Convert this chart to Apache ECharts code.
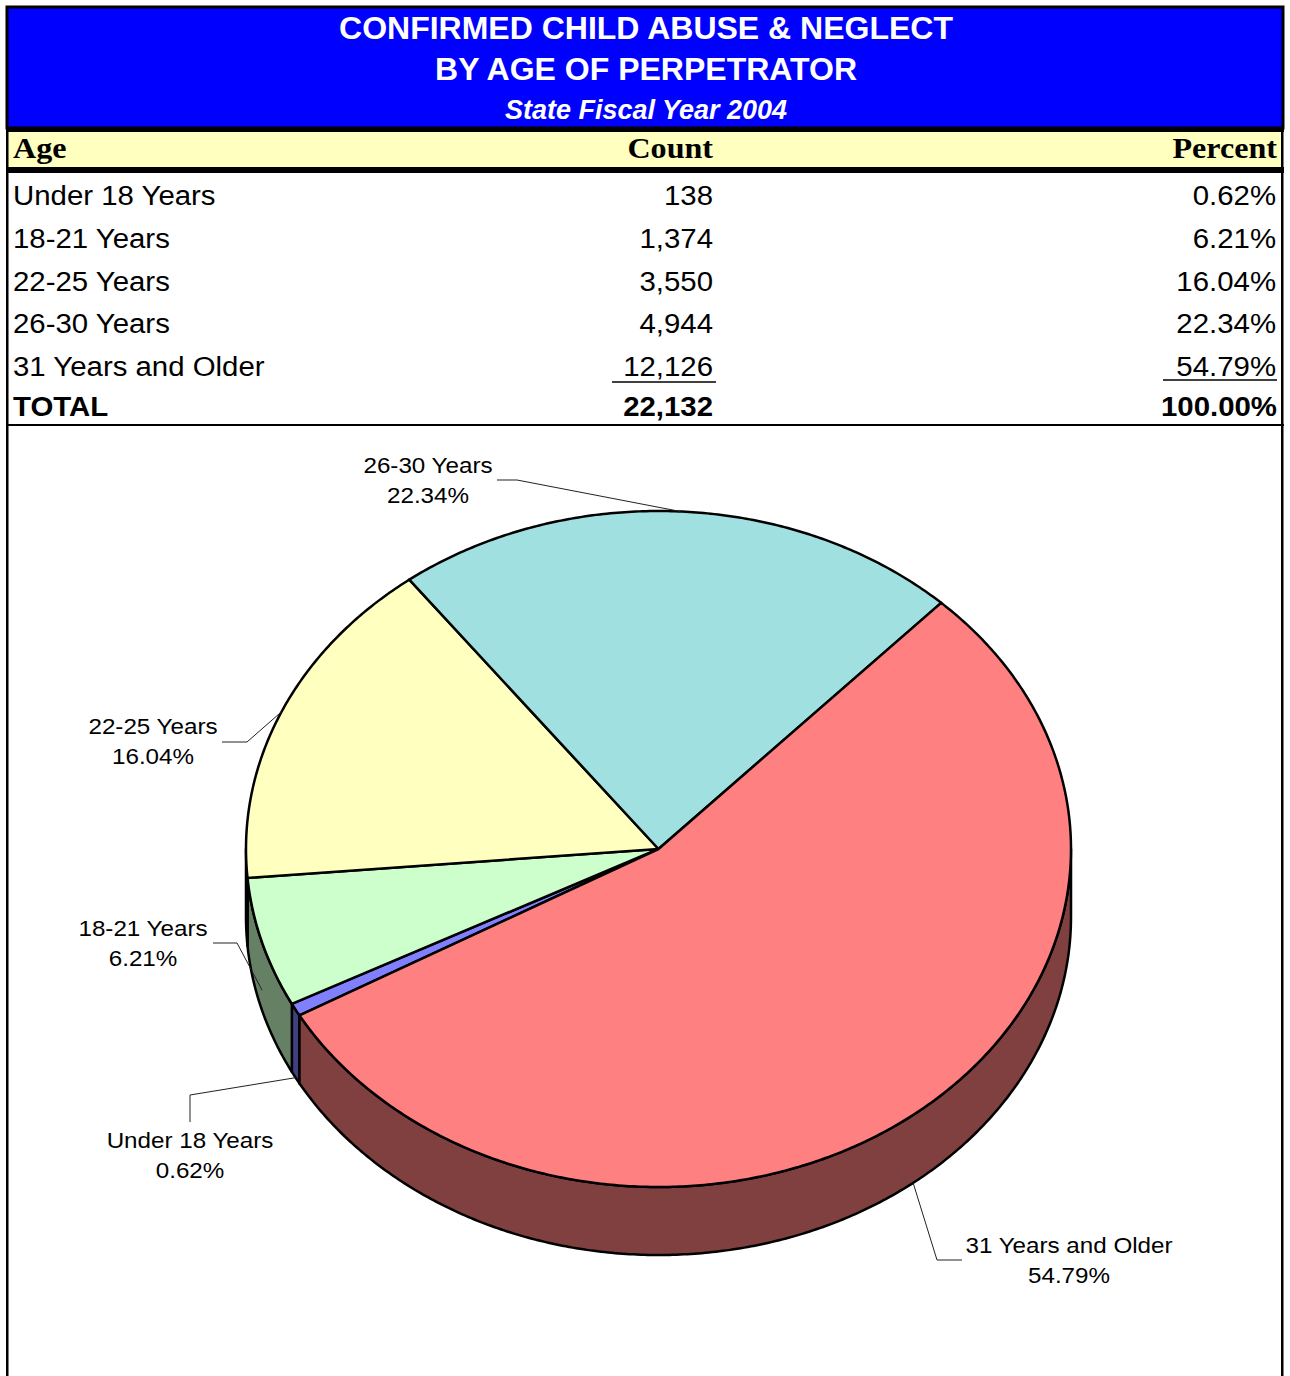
<!DOCTYPE html>
<html>
<head>
<meta charset="utf-8">
<title>Confirmed Child Abuse & Neglect by Age of Perpetrator</title>
<script src="https://cdn.jsdelivr.net/npm/echarts@6/dist/echarts.min.js"></script>
<style>
  html, body { margin: 0; padding: 0; background: #ffffff; }
  #chart { width: 1290px; height: 1376px; }
</style>
</head>
<body>
<div id="chart"></div>
<script>
// ---- Data ----
const titleLines = ['CONFIRMED CHILD ABUSE & NEGLECT', 'BY AGE OF PERPETRATOR'];
const subtitle = 'State Fiscal Year 2004';
const headers = ['Age', 'Count', 'Percent'];
const ageGroups = ['Under 18 Years', '18-21 Years', '22-25 Years', '26-30 Years', '31 Years and Older'];
const counts = [138, 1374, 3550, 4944, 12126];
const percents = [0.62, 6.21, 16.04, 22.34, 54.79];
const totalLabel = 'TOTAL';
const totalCount = 22132;
const totalPercent = 100.00;

// ---- Styles ----
const topColors = ['#8080FF', '#CCFFCC', '#FFFFC0', '#A0E0E0', '#FF8080'];
const sideColors = ['#404080', '#668066', '#808060', '#507070', '#804040'];
const SANS = '"Liberation Sans", Arial, Helvetica, sans-serif';
const SERIF = '"Liberation Serif", "Times New Roman", serif';
const ROW_FONT = '28px ' + SANS;
const ROW_BOLD = 'bold 28px ' + SANS;
const ROW_STRETCH = 1.05;   // table text is set slightly wide
const LABEL_STRETCH = 1.1;  // pie labels likewise

// Pie geometry (tilted disc)
const pie = { cx: 658.5, cy: 849, rx: 412.5, ry: 338, depth: 68, startAngle: -150.5 };

// Label placement: text centre, elbow points of the leader, and how far down the rim the leader ends
const labelLayout = [
  { tx: 190, ty: 1140, path: [[190, 1122], [190, 1095]], rim: 1.0 },
  { tx: 143, ty: 928,  path: [[213, 943], [237, 943]],  rim: 0.7 },
  { tx: 153, ty: 726,  path: [[222, 742], [247, 742]],  rim: 0 },
  { tx: 428, ty: 465,  path: [[497, 480], [517, 480]],  rim: 0 },
  { tx: 1069, ty: 1245, path: [[962, 1260], [937, 1260]], rim: 1.0 }
];

const fmtCount = v => v.toLocaleString('en-US');
const fmtPct = v => v.toFixed(2) + '%';

// Angles of each slice, clockwise from the start angle (degrees, maths convention)
function sliceAngles(i) {
  let acc = 0;
  for (let k = 0; k < i; k++) acc += percents[k];
  const total = percents.reduce((a, b) => a + b, 0);
  const a1 = pie.startAngle - acc / total * 360;
  const a2 = a1 - percents[i] / total * 360;
  return [a1, a2];
}
function pt(deg, dz) {
  const r = deg * Math.PI / 180;
  return [pie.cx + pie.rx * Math.cos(r), pie.cy - pie.ry * Math.sin(r) + (dz || 0)];
}
function arc(from, to, dz) {
  const pts = [];
  const n = Math.max(2, Math.ceil(Math.abs(to - from) / 0.5));
  for (let s = 0; s <= n; s++) pts.push(pt(from + (to - from) * s / n, dz));
  return pts;
}
function cellText(text, x, y, font, align, stretch) {
  return { type: 'text', z: 5, x, y, scaleX: stretch || 1,
    style: { text, font, fill: '#000', textAlign: align, textVerticalAlign: 'middle' } };
}

// ---- Table / banner graphics ----
const graphics = [];
// blue banner
graphics.push({ type: 'rect', shape: { x: 7, y: 7, width: 1276, height: 121 },
  style: { fill: '#0000FF', stroke: '#000', lineWidth: 3 }, z: 1 });
titleLines.forEach((t, i) => graphics.push({ type: 'text', z: 5, x: 646, y: 28 + i * 41,
  style: { text: t, font: 'bold 32px ' + SANS, fill: '#fff', textAlign: 'center', textVerticalAlign: 'middle' } }));
graphics.push({ type: 'text', z: 5, x: 646, y: 110,
  style: { text: subtitle, font: 'italic bold 27px ' + SANS, fill: '#fff', textAlign: 'center', textVerticalAlign: 'middle' } });
// header band
graphics.push({ type: 'rect', shape: { x: 6, y: 127, width: 1278, height: 5 }, style: { fill: '#000' }, z: 2 });
graphics.push({ type: 'rect', shape: { x: 8, y: 132, width: 1273, height: 35 }, style: { fill: '#FFFFC0' }, z: 2 });
graphics.push({ type: 'rect', shape: { x: 6, y: 167, width: 1278, height: 6 }, style: { fill: '#000' }, z: 2 });
graphics.push({ type: 'rect', shape: { x: 6, y: 130, width: 2.5, height: 1246 }, style: { fill: '#000' }, z: 2 });
graphics.push({ type: 'rect', shape: { x: 1281, y: 130, width: 2.5, height: 1246 }, style: { fill: '#000' }, z: 2 });
const headerX = [13, 713, 1277];
const headerAlign = ['left', 'right', 'right'];
headers.forEach((h, i) => graphics.push(cellText(h, headerX[i], 148, 'bold 30px ' + SERIF, headerAlign[i], 1.07)));
// rows
const rowY = [195, 238, 281, 323, 366];
ageGroups.forEach((g, i) => {
  graphics.push(cellText(g, 13, rowY[i], ROW_FONT, 'left', ROW_STRETCH));
  graphics.push(cellText(fmtCount(counts[i]), 713, rowY[i], ROW_FONT, 'right', ROW_STRETCH));
  graphics.push(cellText(fmtPct(percents[i]), 1276, rowY[i], ROW_FONT, 'right', ROW_STRETCH));
});
// subtotal rules
graphics.push({ type: 'line', z: 5, shape: { x1: 612, y1: 382, x2: 716, y2: 382 }, style: { stroke: '#000', lineWidth: 1.5 } });
graphics.push({ type: 'line', z: 5, shape: { x1: 1163, y1: 380, x2: 1277, y2: 380 }, style: { stroke: '#000', lineWidth: 1.5 } });
// total row
graphics.push(cellText(totalLabel, 13, 406, ROW_BOLD, 'left', ROW_STRETCH));
graphics.push(cellText(fmtCount(totalCount), 713, 406, ROW_BOLD, 'right', ROW_STRETCH));
graphics.push(cellText(fmtPct(totalPercent), 1277, 406, ROW_BOLD, 'right', ROW_STRETCH));
graphics.push({ type: 'rect', z: 5, shape: { x: 6, y: 424, width: 1278, height: 2 }, style: { fill: '#000' } });

// ---- Pie: rim (side walls) ----
function renderRim(params, api) {
  const i = params.dataIndex;
  const [a1, a2] = sliceAngles(i);
  const children = [];
  // front half of the disc is where the angle lies in (-180, 0) (mod 360)
  for (let k = -2; k <= 1; k++) {
    const lo = Math.max(a2, -180 + 360 * k);
    const hi = Math.min(a1, 0 + 360 * k);
    if (hi > lo) {
      const top = arc(hi, lo, 0);
      const bottom = arc(lo, hi, pie.depth);
      children.push({ type: 'polygon', shape: { points: top.concat(bottom) },
        style: { fill: sideColors[i], stroke: '#000', lineWidth: 2.5, lineJoin: 'round' } });
    }
  }
  return { type: 'group', children };
}

// ---- Pie: top faces ----
function renderTop(params, api) {
  const i = params.dataIndex;
  const [a1, a2] = sliceAngles(i);
  const pts = [[pie.cx, pie.cy]].concat(arc(a1, a2, 0));
  return { type: 'group', children: [
    { type: 'polygon', shape: { points: pts },
      style: { fill: topColors[i], stroke: '#000', lineWidth: 2.5, lineJoin: 'round' } }
  ] };
}

// ---- Pie: leaders and labels ----
function renderLabel(params, api) {
  const i = params.dataIndex;
  const [a1, a2] = sliceAngles(i);
  const mid = (a1 + a2) / 2;
  const L = labelLayout[i];
  const anchor = pt(mid, pie.depth * L.rim);
  return { type: 'group', children: [
    { type: 'polyline', shape: { points: L.path.concat([anchor]) },
      style: { stroke: '#222', lineWidth: 1, fill: null } },
    { type: 'text', x: L.tx, y: L.ty, scaleX: LABEL_STRETCH,
      style: { text: ageGroups[i], font: '22px ' + SANS, fill: '#000', textAlign: 'center', textVerticalAlign: 'middle' } },
    { type: 'text', x: L.tx, y: L.ty + 30, scaleX: LABEL_STRETCH,
      style: { text: fmtPct(api.value(0)), font: '22px ' + SANS, fill: '#000', textAlign: 'center', textVerticalAlign: 'middle' } }
  ] };
}

const chart = echarts.init(document.getElementById('chart'), null, { renderer: 'svg' });
chart.setOption({
  backgroundColor: '#ffffff',
  animation: false,
  graphic: graphics,
  series: [
    { type: 'custom', name: 'rim', coordinateSystem: 'none', z: 1, silent: true,
      renderItem: renderRim, data: percents },
    { type: 'custom', name: 'top', coordinateSystem: 'none', z: 2, silent: true,
      renderItem: renderTop, data: percents },
    { type: 'custom', name: 'labels', coordinateSystem: 'none', z: 3, silent: true,
      renderItem: renderLabel, data: percents }
  ]
});
</script>
</body>
</html>
